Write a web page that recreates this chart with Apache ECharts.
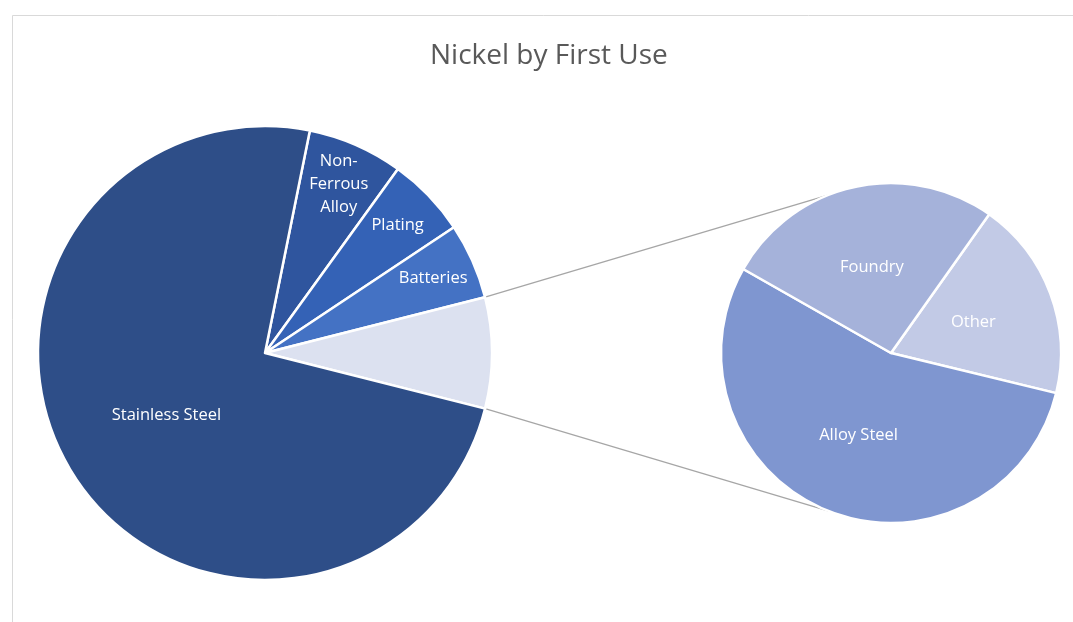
<!DOCTYPE html>
<html>
<head>
<meta charset="utf-8">
<script src="https://cdn.jsdelivr.net/npm/echarts@6/dist/echarts.min.js"></script>
<style>
  html, body { margin: 0; padding: 0; background: #fff; }
  #chart { width: 1073px; height: 622px; }
</style>
</head>
<body>
<div id="chart"></div>
<script>
// main pie (clockwise from Non-Ferrous), "Other" is the combined slice
const main_names = ['Non-\nFerrous\nAlloy', 'Plating', 'Batteries', 'Other', 'Stainless Steel'];
const main_values = [6.8, 5.7, 5.4, 7.9, 74.3];
const main_colors = ['#2F559E', '#3462B6', '#4472C4', '#DCE1F0', '#2E4E88'];

// secondary pie (clockwise from Other)
const sub_names = ['Other', 'Alloy Steel', 'Foundry'];
const sub_values = [1.5, 4.3, 2.1];
const sub_colors = ['#C2CAE6', '#7F96D0', '#A5B2DA'];

const title_text = 'Nickel by First Use';

// layout
const main_c = [265, 353], main_r = 227;
const sub_c = [891, 353], sub_r = 170;
const main_start = 78.6;   // echarts degrees (90 = top)
const sub_start = 54.7;

let chart = echarts.init(document.getElementById('chart'));

function gen_data(names, values, colors, show) {
    return names.map((n, i) => ({
        name: n,
        value: values[i],
        itemStyle: {color: colors[i]},
        label: {show: show(i)}
    }));
}

// connector lines computed from the "Other" slice edges
function gen_connectors() {
    let total = main_values.reduce((a, b) => a + b, 0);
    let idx = main_names.indexOf('Other');
    let before = main_values.slice(0, idx).reduce((a, b) => a + b, 0);
    let a1 = main_start - before / total * 360;
    let a2 = a1 - main_values[idx] / total * 360;
    let pt = (c, r, deg) => [c[0] + r * Math.cos(deg * Math.PI / 180), c[1] - r * Math.sin(deg * Math.PI / 180)];
    let p1 = pt(main_c, main_r, a1), p2 = pt(main_c, main_r, a2);
    let q1 = pt(sub_c, sub_r, 90 + 21.7), q2 = pt(sub_c, sub_r, 270 - 21.7);
    let line = (a, b) => ({
        type: 'line', z: -1,
        shape: {x1: a[0], y1: a[1], x2: b[0], y2: b[1]},
        style: {stroke: '#A6A6A6', lineWidth: 1.3}
    });
    return [line(p1, q1), line(p2, q2)];
}

let label_style = {
    color: '#fff',
    fontFamily: 'Open Sans',
    fontSize: 16.5,
    lineHeight: 23,
    textBorderWidth: 0
};

let option = {
    animation: false,
    backgroundColor: '#fff',
    title: {
        text: title_text,
        left: 425,
        top: 37,
        textStyle: {
            color: '#595959',
            fontFamily: 'Open Sans',
            fontWeight: 'normal',
            fontSize: 28
        }
    },
    graphic: [
        {
            type: 'rect', z: -2,
            shape: {x: 12.5, y: 15.5, width: 1200, height: 800},
            style: {fill: 'none', stroke: '#D9D9D9', lineWidth: 1}
        },
        ...gen_connectors()
    ],
    series: [
        {
            type: 'pie',
            center: main_c,
            radius: [0, main_r],
            startAngle: main_start,
            clockwise: true,
            avoidLabelOverlap: false,
            itemStyle: {borderColor: '#fff', borderWidth: 2.5},
            label: Object.assign({position: 'inside'}, label_style),
            labelLine: {show: false},
            emphasis: {disabled: true},
            data: gen_data(main_names, main_values, main_colors, i => main_names[i] === 'Stainless Steel')
        },
        {
            // transparent ring only for the labels of the small slices
            type: 'pie',
            center: main_c,
            radius: [135, main_r],
            startAngle: main_start,
            clockwise: true,
            avoidLabelOverlap: false,
            silent: true,
            itemStyle: {color: 'transparent', borderWidth: 0},
            label: Object.assign({position: 'inside'}, label_style),
            labelLine: {show: false},
            emphasis: {disabled: true},
            data: main_names.map((n, i) => ({
                name: n,
                value: main_values[i],
                itemStyle: {color: 'transparent'},
                label: {show: n !== 'Stainless Steel' && n !== 'Other'}
            }))
        },
        {
            type: 'pie',
            center: sub_c,
            radius: [0, sub_r],
            startAngle: sub_start,
            clockwise: true,
            avoidLabelOverlap: false,
            itemStyle: {borderColor: '#fff', borderWidth: 2.5},
            label: Object.assign({position: 'inside'}, label_style),
            labelLine: {show: false},
            emphasis: {disabled: true},
            data: gen_data(sub_names, sub_values, sub_colors, i => true)
        }
    ]
};

chart.setOption(option);
</script>
</body>
</html>
